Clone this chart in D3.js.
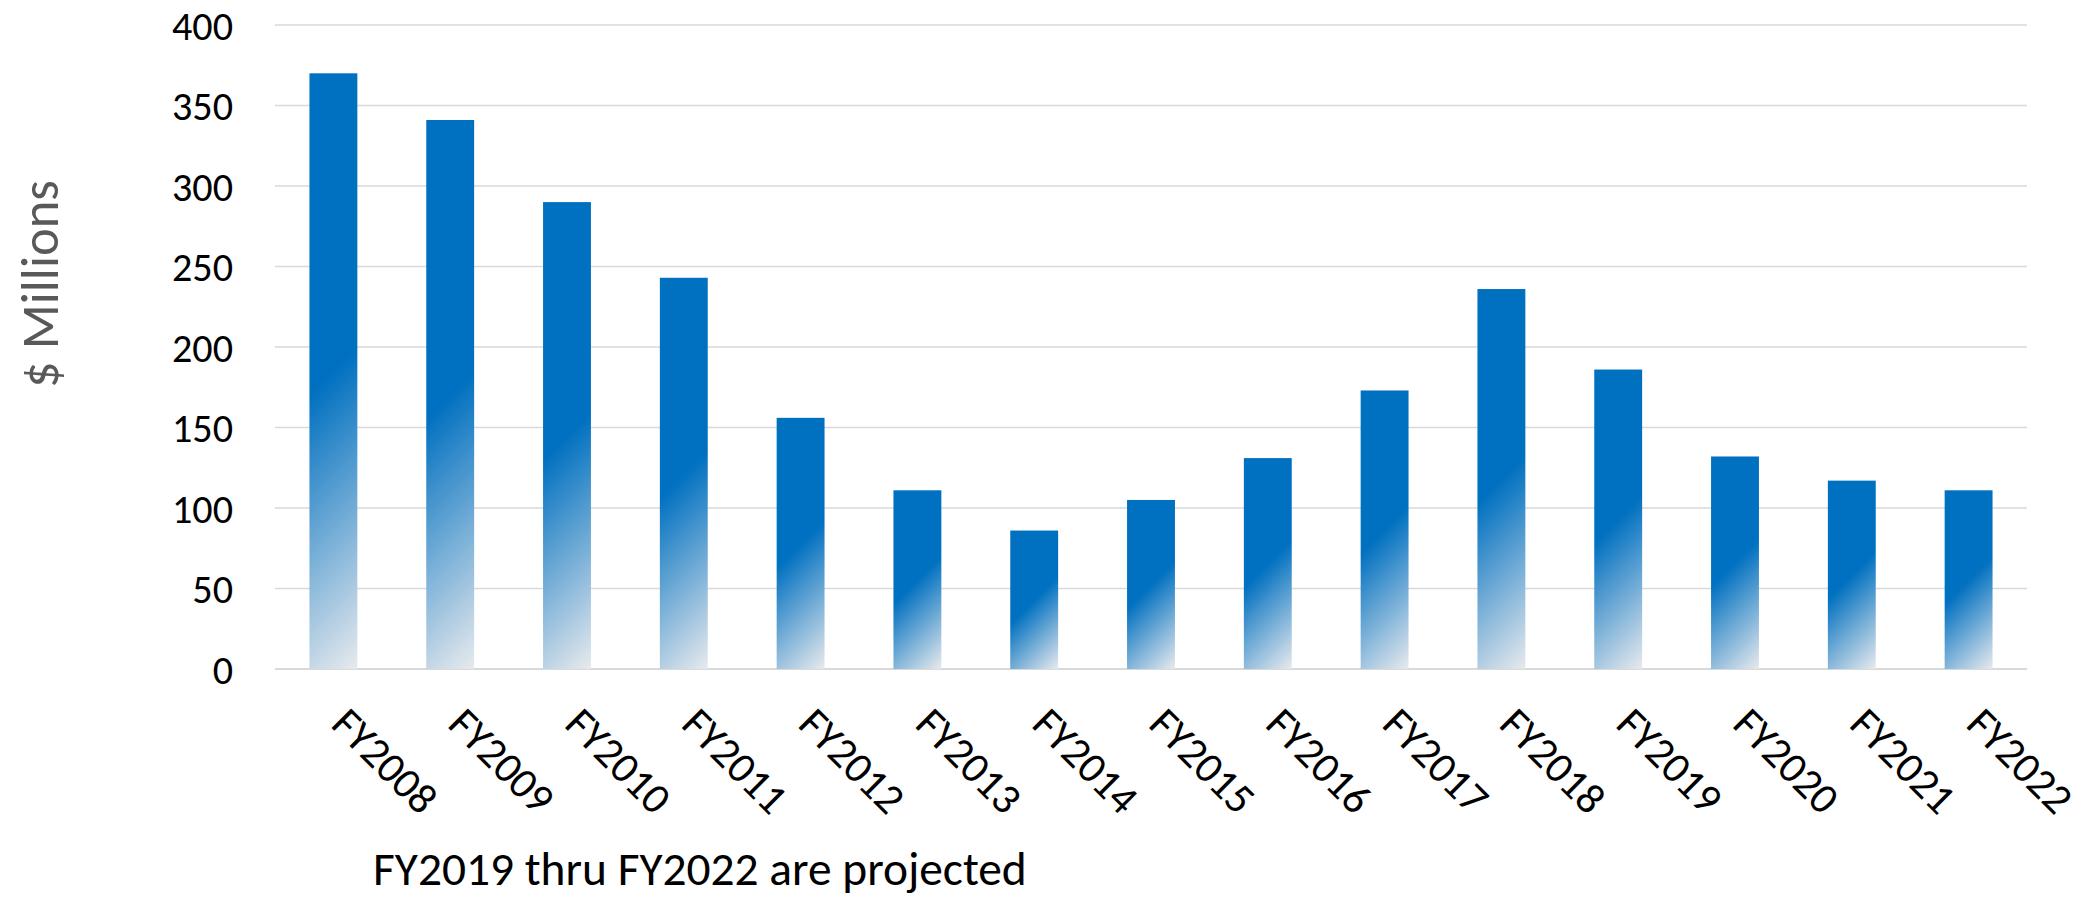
<!DOCTYPE html>
<html>
<head>
<meta charset="utf-8">
<script src="https://cdn.jsdelivr.net/npm/d3@7"></script>
<style>
  html, body { margin: 0; padding: 0; background: #ffffff; }
  svg { display: block; }
  text { font-family: Carlito, Calibri, Lato, "Open Sans", sans-serif; }
</style>
</head>
<body>
<svg id="chart" width="2083" height="900"></svg>
<script>
// ---- Data ----
const categories = ["FY2008","FY2009","FY2010","FY2011","FY2012","FY2013","FY2014","FY2015","FY2016","FY2017","FY2018","FY2019","FY2020","FY2021","FY2022"];
const values = [370, 341, 290, 243, 156, 111, 86, 105, 131, 173, 236, 186, 132, 117, 111];
const yTicks = [0, 50, 100, 150, 200, 250, 300, 350, 400];
const yAxisTitle = "$ Millions";
const footnote = "FY2019 thru FY2022 are projected";

// ---- Layout ----
const W = 2083, H = 900;
const plot = { left: 275, right: 2027, top: 25, bottom: 669 };

const svg = d3.select("#chart");
const defs = svg.append("defs");

const x = d3.scaleBand()
  .domain(categories)
  .range([plot.left, plot.right])
  .paddingInner(0.59)
  .paddingOuter(0.295);

const y = d3.scaleLinear()
  .domain([0, 400])
  .range([plot.bottom, plot.top]);

// helper: fit font size so text width matches target
function fitSize(sample, baseSize, targetWidth) {
  const t = svg.append("text").attr("font-size", baseSize).text(sample);
  const w = t.node().getComputedTextLength();
  t.remove();
  return baseSize * targetWidth / w;
}

// ---- Gridlines ----
const grid = svg.append("g").attr("class", "grid");
grid.selectAll("line")
  .data(yTicks)
  .join("line")
  .attr("x1", plot.left)
  .attr("x2", plot.right)
  .attr("y1", d => y(d))
  .attr("y2", d => y(d))
  .attr("stroke", "#d9d9d9")
  .attr("stroke-width", d => d === 0 ? 2 : 1.5);

// ---- Y axis labels ----
const tickSize = fitSize("400", 40, 61);
const yAxis = d3.axisLeft(y).tickValues(yTicks).tickSize(0).tickPadding(0).tickFormat(d3.format("d"));
const yG = svg.append("g")
  .attr("transform", `translate(${233},0)`)
  .call(yAxis);
yG.select(".domain").remove();
yG.selectAll("text")
  .attr("font-size", tickSize)
  .attr("fill", "#000000")
  .attr("dy", "0.36em")
  .style("font-family", "Carlito, Calibri, Lato, 'Open Sans', sans-serif");

// ---- Y axis title ----
const titleSize = fitSize(yAxisTitle, 50, 208);
svg.append("text")
  .attr("transform", `translate(58,284) rotate(-90)`)
  .attr("text-anchor", "middle")
  .attr("font-size", titleSize)
  .attr("fill", "#595959")
  .text(yAxisTitle);

// ---- Bars with diagonal gradient ----
const bw = x.bandwidth();
categories.forEach((c, i) => {
  const x0 = x(c), y0 = y(values[i]);
  const h = y(0) - y0;
  const s = (bw + h) / 2;
  const g = defs.append("linearGradient")
    .attr("id", "grad" + i)
    .attr("gradientUnits", "userSpaceOnUse")
    .attr("x1", x0).attr("y1", y0)
    .attr("x2", x0 + s).attr("y2", y0 + s);
  g.append("stop").attr("offset", 0).attr("stop-color", "#0070C0");
  g.append("stop").attr("offset", 0.5).attr("stop-color", "#0070C0");
  g.append("stop").attr("offset", 1).attr("stop-color", "#E8EAED");
});

svg.append("g").attr("class", "bars")
  .selectAll("rect")
  .data(categories.map((c, i) => ({ c, v: values[i], i })))
  .join("rect")
  .attr("x", d => x(d.c))
  .attr("y", d => y(d.v))
  .attr("width", bw)
  .attr("height", d => y(0) - y(d.v))
  .attr("fill", d => `url(#grad${d.i})`);

// ---- X axis labels (rotated 45°) ----
const xLabelSize = fitSize("FY2008", 40, 128);
const xAxis = d3.axisBottom(x).tickSize(0).tickPadding(0);
const xG = svg.append("g")
  .attr("transform", `translate(0,${plot.bottom})`)
  .call(xAxis);
xG.select(".domain").remove();
xG.selectAll(".tick text")
  .attr("font-size", xLabelSize)
  .attr("fill", "#000000")
  .attr("text-anchor", "start")
  .attr("x", 0).attr("y", 0).attr("dy", 0)
  .attr("transform", "translate(-4,57) rotate(45)")
  .style("font-family", "Carlito, Calibri, Lato, 'Open Sans', sans-serif");

// ---- Footnote ----
const noteSize = fitSize(footnote, 44, 654);
svg.append("text")
  .attr("x", 373)
  .attr("y", 885)
  .attr("font-size", noteSize)
  .attr("fill", "#000000")
  .text(footnote);
</script>
</body>
</html>
